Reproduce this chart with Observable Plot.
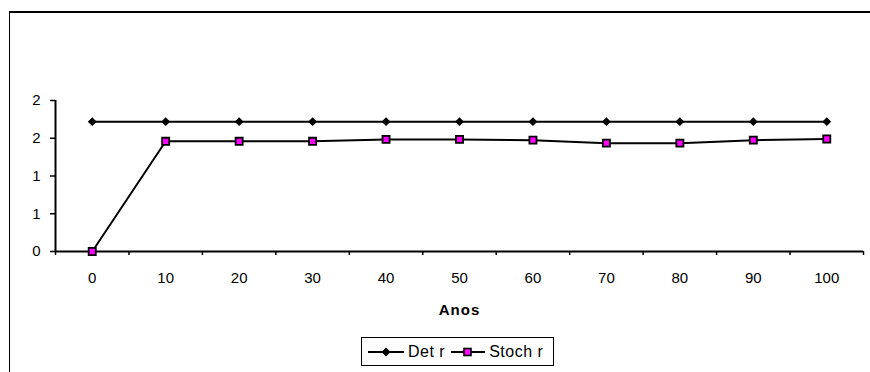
<!DOCTYPE html>
<html>
<head>
<meta charset="utf-8">
<script src="https://cdn.jsdelivr.net/npm/d3@7"></script>
<script src="https://cdn.jsdelivr.net/npm/@observablehq/plot@0.6"></script>
<style>
  html, body { margin: 0; padding: 0; background: #fff; }
  #wrap { position: relative; width: 870px; height: 372px; overflow: hidden; font-family: "Liberation Sans", Arial, sans-serif; }
  #border { position: absolute; left: 9px; top: 11px; width: 900px; height: 400px; border-left: 1.5px solid #000; border-top: 2px solid #000; }
  #chart { position: absolute; left: 0; top: 0; }
  #legend { position: absolute; left: 361px; top: 337px; width: 191px; height: 27px; border: 1.5px solid #000; background: #fff;
            display: flex; align-items: center; font-size: 16px; letter-spacing: 0.5px; color: #000; }
  #legend .item { display: flex; align-items: center; }
  #legend svg { display: block; }
</style>
</head>
<body>
<div id="wrap">
  <div id="border"></div>
  <div id="chart"></div>
  <div id="legend"></div>
</div>
<script>
const years = [0, 10, 20, 30, 40, 50, 60, 70, 80, 90, 100];
const xTickLabels = ["0", "10", "20", "30", "40", "50", "60", "70", "80", "90", "100"];
const detR = [1.72, 1.72, 1.72, 1.72, 1.72, 1.72, 1.72, 1.72, 1.72, 1.72, 1.72];
const stochR = [0, 1.46, 1.46, 1.46, 1.485, 1.485, 1.475, 1.435, 1.435, 1.475, 1.49];
const yTicks = [0, 0.5, 1, 1.5, 2];
const yTickLabels = ["0", "1", "1", "2", "2"];
const seriesNames = ["Det r", "Stoch r"];
const xLabel = "Anos";

const det = years.map((x, i) => ({x, y: detR[i]}));
const stoch = years.map((x, i) => ({x, y: stochR[i]}));
const step = years[1] - years[0];
const boundaries = [...years.map(d => d - step / 2), years[years.length - 1] + step / 2];

const chart = Plot.plot({
  width: 870,
  height: 372,
  marginLeft: 55,
  marginRight: 7,
  marginTop: 100,
  marginBottom: 121,
  x: {domain: [boundaries[0], boundaries[boundaries.length - 1]]},
  y: {domain: [0, 2]},
  style: {fontFamily: "'Liberation Sans', Arial, sans-serif", fontSize: "15px", background: "transparent", color: "#000"},
  marks: [
    Plot.axisY({ticks: yTicks, tickSize: 5, tickPadding: 10, tickFormat: (d, i) => yTickLabels[i], label: null, strokeWidth: 1.5, fontSize: 15}),
    Plot.axisX({ticks: boundaries, tickSize: 4, tickFormat: () => "", label: null, strokeWidth: 1.5}),
    Plot.axisX({ticks: years, tickSize: 0, tickPadding: 21, tickFormat: (d, i) => xTickLabels[i], label: null, fontSize: 15}),
    Plot.ruleY([0], {stroke: "#000", strokeWidth: 2}),
    Plot.ruleX([boundaries[0]], {stroke: "#000", strokeWidth: 2}),
    Plot.line(det, {x: "x", y: "y", stroke: "#000", strokeWidth: 2}),
    Plot.dot(det, {x: "x", y: "y", symbol: "diamond2", r: 4, fill: "#000", stroke: "none"}),
    Plot.line(stoch, {x: "x", y: "y", stroke: "#000", strokeWidth: 2}),
    Plot.dot(stoch, {x: "x", y: "y", symbol: "square", r: 4, fill: "#ff00ff", stroke: "#000", strokeWidth: 1.8}),
    Plot.text([xLabel], {text: d => d, frameAnchor: "bottom", dy: 59, fontWeight: "bold", fontSize: 15, lineAnchor: "middle", fill: "#000", style: "letter-spacing:1px"})
  ]
});
chart.querySelectorAll("text").forEach(t => { if (t.textContent === xLabel) t.setAttribute("letter-spacing", "1px"); });
document.getElementById("chart").appendChild(chart);

// legend
const legend = document.getElementById("legend");
const symbols = [
  `<svg width="38" height="12"><line x1="1" y1="6" x2="37" y2="6" stroke="#000" stroke-width="2"/><path d="M19,1.5 L23.5,6 L19,10.5 L14.5,6 Z" fill="#000"/></svg>`,
  `<svg width="36" height="12"><line x1="1" y1="6" x2="35" y2="6" stroke="#000" stroke-width="2"/><rect x="14" y="2.5" width="7" height="7" fill="#ff00ff" stroke="#000" stroke-width="1.6"/></svg>`
];
seriesNames.forEach((name, i) => {
  const item = document.createElement("div");
  item.className = "item";
  item.style.marginLeft = i === 0 ? "5px" : "5px";
  item.innerHTML = symbols[i] + `<span style="margin-left:3px">${name}</span>`;
  legend.appendChild(item);
});
</script>
</body>
</html>
